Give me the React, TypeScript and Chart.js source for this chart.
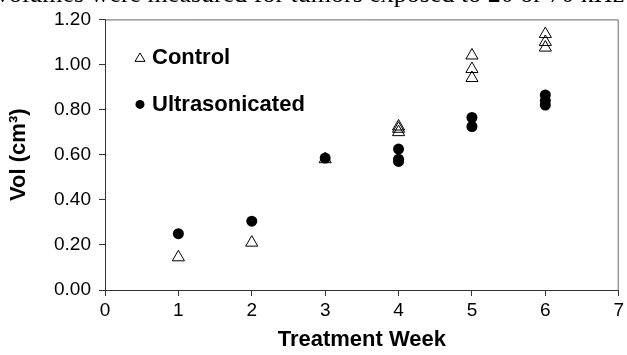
import React, { useEffect, useRef } from "react";
import { Chart, registerables } from "chart.js";

Chart.register(...registerables);

const controlWeeks = [1, 2, 3, 4, 4, 4, 5, 5, 5, 6, 6, 6];
const controlVol = [0.145, 0.21, 0.58, 0.70, 0.715, 0.725, 0.94, 0.98, 1.04, 1.075, 1.10, 1.135];
const usWeeks = [1, 2, 3, 4, 4, 4, 5, 5, 6, 6, 6];
const usVol = [0.25, 0.305, 0.585, 0.57, 0.58, 0.625, 0.725, 0.765, 0.82, 0.84, 0.865];
const xTicks = [0, 1, 2, 3, 4, 5, 6, 7];
const yTicks = [0, 0.2, 0.4, 0.6, 0.8, 1.0, 1.2];
const legendLabels = ["Control", "Ultrasonicated"];
const topText = "volumes were measured for tumors exposed to 20 or 70 kHz";

const FONT = "Arial, 'Liberation Sans', Helvetica, sans-serif";

export default function App() {
  const ref = useRef<HTMLCanvasElement>(null);
  useEffect(() => {
    document.body.style.margin = "0";
    const boxPlugin = {
      id: "boxAndLegend",
      afterDraw(chart: any) {
        const { ctx, chartArea: a } = chart;
        ctx.save();
        ctx.strokeStyle = "#666";
        ctx.lineWidth = 1;
        ctx.beginPath();
        ctx.moveTo(a.left, a.top + 0.5);
        ctx.lineTo(a.right - 0.5, a.top + 0.5);
        ctx.lineTo(a.right - 0.5, a.bottom);
        ctx.stroke();
        // legend
        const lx = a.left + 35;
        const ly1 = a.top + 38;
        const ly2 = a.top + 85;
        ctx.strokeStyle = "#000";
        ctx.beginPath();
        ctx.moveTo(lx, ly1 - 4.5);
        ctx.lineTo(lx + 5, ly1 + 4);
        ctx.lineTo(lx - 5, ly1 + 4);
        ctx.closePath();
        ctx.stroke();
        ctx.fillStyle = "#000";
        ctx.beginPath();
        ctx.arc(lx, ly2, 4.5, 0, Math.PI * 2);
        ctx.fill();
        ctx.font = `bold 22px ${FONT}`;
        ctx.textBaseline = "middle";
        ctx.textAlign = "left";
        ctx.fillText(legendLabels[0], lx + 12, ly1 + 1);
        ctx.fillText(legendLabels[1], lx + 12, ly2 + 1);
        ctx.restore();
      },
    };
    const chart = new Chart(ref.current!, {
      type: "scatter",
      data: {
        datasets: [
          {
            label: legendLabels[0],
            data: controlWeeks.map((w, i) => ({ x: w, y: controlVol[i] })),
            pointStyle: "triangle",
            pointRadius: 7,
            borderColor: "#000",
            borderWidth: 1,
            backgroundColor: "rgba(0,0,0,0)",
          },
          {
            label: legendLabels[1],
            data: usWeeks.map((w, i) => ({ x: w, y: usVol[i] })),
            pointStyle: "circle",
            pointRadius: 5.5,
            borderColor: "#000",
            borderWidth: 0,
            backgroundColor: "#000",
          },
        ],
      },
      options: {
        animation: false,
        responsive: false,
        devicePixelRatio: 1,
        layout: { padding: { top: 19, right: 5, left: 0, bottom: 0 } },
        plugins: { legend: { display: false }, tooltip: { enabled: false } },
        scales: {
          x: {
            type: "linear",
            min: 0,
            max: 7,
            afterBuildTicks: (s: any) => {
              s.ticks = xTicks.map((v) => ({ value: v }));
            },
            afterFit: (s: any) => {
              s.height = 65;
            },
            grid: { drawOnChartArea: false, tickLength: 6, color: "#333", tickColor: "#333" },
            border: { color: "#333", width: 1 },
            ticks: { color: "#000", font: { family: FONT, size: 19 }, padding: 3 },
            title: {
              display: true,
              text: "Treatment Week",
              color: "#000",
              font: { family: FONT, size: 22, weight: "bold" },
              padding: { top: 0, bottom: 2 },
            },
          },
          y: {
            type: "linear",
            min: 0,
            max: 1.2,
            afterBuildTicks: (s: any) => {
              s.ticks = yTicks.map((v) => ({ value: v }));
            },
            afterFit: (s: any) => {
              s.width = 105;
            },
            grid: { drawOnChartArea: false, tickLength: 6, color: "#333", tickColor: "#333" },
            border: { color: "#333", width: 1 },
            ticks: {
              color: "#000",
              font: { family: FONT, size: 19 },
              padding: 8,
              callback: (v: any) => Number(v).toFixed(2),
            },
            title: {
              display: true,
              text: "Vol (cm³)",
              color: "#000",
              font: { family: FONT, size: 22, weight: "bold" },
              padding: { top: 6, bottom: 0 },
            },
          },
        },
      },
      plugins: [boxPlugin],
    });
    return () => chart.destroy();
  }, []);
  return (
    <div style={{ position: "relative", width: 627, height: 355, overflow: "hidden", background: "#fff" }}>
      <canvas ref={ref} width={627} height={355} style={{ display: "block" }} />
      <div
        style={{
          position: "absolute",
          left: -4,
          top: -21,
          width: 640,
          whiteSpace: "nowrap",
          overflow: "hidden",
          fontFamily: "'Liberation Serif', 'DejaVu Serif', serif",
          fontSize: 26,
          color: "#000",
        }}
      >
        {topText}
      </div>
    </div>
  );
}
